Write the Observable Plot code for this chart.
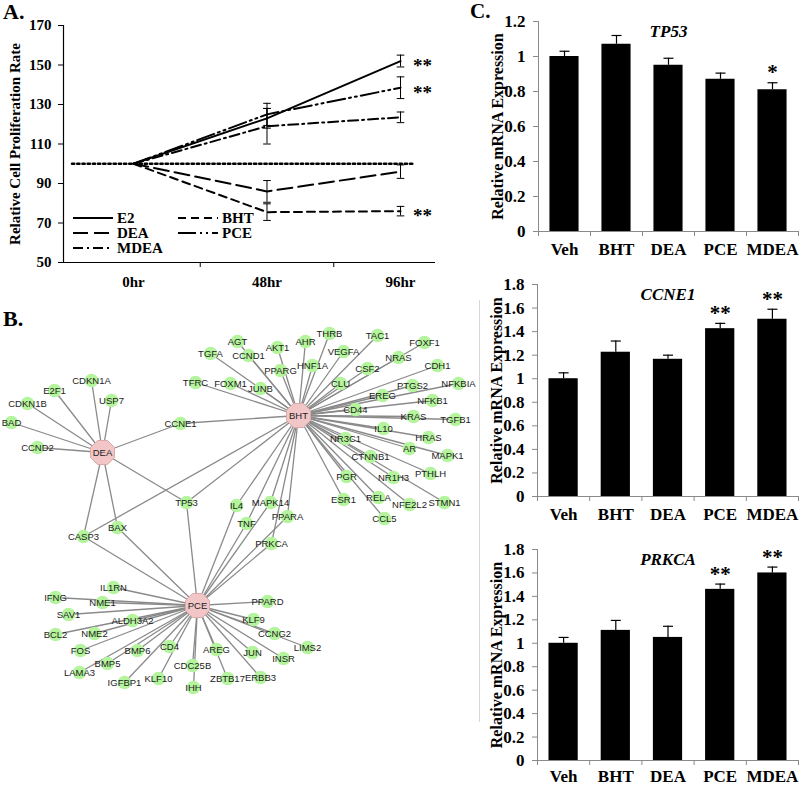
<!DOCTYPE html>
<html>
<head>
<meta charset="utf-8">
<script src="https://cdn.jsdelivr.net/npm/d3@7"></script>
<script src="https://cdn.jsdelivr.net/npm/@observablehq/plot@0.6"></script>
<style>
  html, body { margin: 0; padding: 0; background: #fff; }
  #wrap { position: relative; width: 800px; height: 786px; overflow: hidden; background: #fff;
          font-family: "Liberation Serif", "Times New Roman", serif; }
  .panel { position: absolute; }
  .panel svg { display: block; max-width: none; }
  .tag { position: absolute; font-weight: bold; line-height: 1.1; font-family: "Liberation Serif", "Times New Roman", serif; }
  .frameline { position: absolute; border-left: 1px solid #d8d8d8; }
</style>
</head>
<body>
<div id="wrap">
  <div class="panel" id="panelB" style="left:0;top:320px;"></div>
  <div class="panel" id="panelA" style="left:0;top:0;"></div>
  <div class="panel" id="legendA" style="left:0;top:0;pointer-events:none;"></div>
  <div class="frameline" style="left:479px;top:300px;height:422px;"></div>
  <div class="panel" id="panelC1" style="left:470px;top:0;"></div>
  <div class="panel" id="panelC2" style="left:470px;top:260px;"></div>
  <div class="panel" id="panelC3" style="left:470px;top:516px;"></div>
  <div class="tag" style="left:3px;top:0px;font-size:22px;">A.</div>
  <div class="tag" style="left:3px;top:307px;font-size:22px;">B.</div>
  <div class="tag" style="left:470px;top:0px;font-size:21px;">C.</div>
</div>
<script>
// ---------------- Panel A data ----------------
const timeLabels = ["0hr", "48hr", "96hr"];
const timeIndex = [0, 1, 2];
const seriesNames = ["E2", "DEA", "MDEA", "BHT", "PCE"];
const e2Values   = [100, 123, 152];
const e2Err      = [0, 5, 3];
const deaValues  = [100, 86, 96];
const deaErr     = [0, 5.5, 3.4];
const mdeaValues = [100, 119, 123.5];
const mdeaErr    = [0, 9, 2.7];
const bhtValues  = [100, 75.5, 76];
const bhtErr     = [0, 4.2, 2.4];
const pceValues  = [100, 125, 138.5];
const pceErr     = [0, 5.6, 5.5];
const sigSeriesA = ["E2", "PCE", "BHT"];
const sigTextA = "**";
const baselineValue = 100;
const baselineExtent = [-0.46, 2.1];
const xExtentA = [-0.524, 2.262];
const yDomainA = [50, 170];
const yTicksA = [50, 70, 90, 110, 130, 150, 170];
const yLabelA = "Relative Cell Proliferation Rate";

// ---------------- Panel C data ----------------
const treatments = ["Veh", "BHT", "DEA", "PCE", "MDEA"];
const tp53Values  = [1.00, 1.07, 0.95, 0.87, 0.81];
const tp53Err     = [0.03, 0.05, 0.04, 0.035, 0.04];
const tp53Sig     = ["", "", "", "", "*"];
const ccne1Values = [1.00, 1.225, 1.165, 1.425, 1.505];
const ccne1Err    = [0.05, 0.095, 0.035, 0.045, 0.085];
const ccne1Sig    = ["", "", "", "**", "**"];
const prkcaValues = [1.00, 1.11, 1.05, 1.46, 1.60];
const prkcaErr    = [0.05, 0.085, 0.095, 0.045, 0.05];
const prkcaSig    = ["", "", "", "**", "**"];
const yLabelC = "Relative mRNA Expression";

// ---------------- Panel B data (network) ----------------
const hubNames = ["DEA", "BHT", "PCE"];
const deaTargets = ["CDKN1A", "E2F1", "USP7", "CDKN1B", "BAD", "CCND2", "CCNE1", "TP53", "CASP3", "BAX"];
const bhtTargets = ["AGT", "TGFA", "CCND1", "AKT1", "AHR", "THRB", "TAC1", "FOXF1", "VEGFA", "HNF1A", "PPARG",
  "NRAS", "CSF2", "CDH1", "CLU", "FOXM1", "JUNB", "TFRC", "PTGS2", "NFKBIA", "EREG", "NFKB1", "CD44", "KRAS",
  "TGFB1", "IL10", "HRAS", "NR3C1", "AR", "MAPK1", "CTNNB1", "PTHLH", "NR1H3", "PGR", "ESR1", "RELA", "NFE2L2",
  "STMN1", "CCL5", "CCNE1", "TP53", "CASP3", "IL4", "TNF", "MAPK14", "PPARA", "PRKCA"];
const pceTargets = ["IL1RN", "IFNG", "NME1", "SAV1", "ALDH3A2", "BCL2", "NME2", "FOS", "BMP6", "CD4", "BMP5",
  "LAMA3", "IGFBP1", "KLF10", "CDC25B", "IHH", "AREG", "ZBTB17", "PPARD", "KLF9", "CCNG2", "LIMS2", "JUN",
  "INSR", "ERBB3", "TP53", "CASP3", "BAX", "IL4", "TNF", "MAPK14", "PPARA", "PRKCA"];
// network layout
const networkLayout = [
  ["DEA",102,452],["BHT",298,415],["PCE",197,605],
  ["CDKN1A",91,380],["E2F1",54,390],["USP7",111,400],["CDKN1B",27,403],["BAD",11,422],["CCND2",37,447],
  ["CCNE1",180,423],["TP53",186,502],["CASP3",83,536],["BAX",117,527],
  ["IL4",236,505],["TNF",246,523],["MAPK14",270,502],["PPARA",287,516],["PRKCA",271,543],
  ["AGT",237,341],["TGFA",210,353],["CCND1",248,355],["AKT1",277,347],["AHR",305,341],["THRB",329,333],
  ["TAC1",377,335],["FOXF1",424,342],["VEGFA",343,351],["HNF1A",312,365],["PPARG",280,370],["NRAS",398,357],
  ["CSF2",367,368],["CDH1",437,365],["CLU",340,383],["FOXM1",230,383],["JUNB",260,388],["TFRC",195,382],
  ["PTGS2",412,385],["NFKBIA",458,383],["EREG",382,395],["NFKB1",432,400],["CD44",355,409],["KRAS",413,416],
  ["TGFB1",455,419],["IL10",383,428],["HRAS",428,437],["NR3C1",345,438],["AR",409,448],["MAPK1",447,455],
  ["CTNNB1",370,456],["PTHLH",430,473],["NR1H3",393,477],["PGR",346,476],["ESR1",343,499],["RELA",378,497],
  ["NFE2L2",409,504],["STMN1",444,502],["CCL5",384,518],
  ["IL1RN",113,587],["IFNG",55,597],["NME1",102,602],["SAV1",68,614],["ALDH3A2",132,620],["BCL2",55,634],
  ["NME2",94,633],["FOS",80,650],["BMP6",137,650],["CD4",169,646],["BMP5",107,663],["LAMA3",79,672],
  ["IGFBP1",124,682],["KLF10",158,678],["CDC25B",192,665],["IHH",193,687],["AREG",216,649],["ZBTB17",227,678],
  ["PPARD",267,601],["KLF9",253,619],["CCNG2",274,633],["LIMS2",307,647],["JUN",252,652],["INSR",283,658],
  ["ERBB3",260,677]
];

// ---------------- helpers ----------------
const SERIF = "'Liberation Serif','Times New Roman',serif";
const capSymbol = { draw(ctx, size) { const w = Math.sqrt(size / Math.PI); ctx.moveTo(-w, 0); ctx.lineTo(w, 0); } };
const octagonSymbol = { draw(ctx, size) {
  const r = Math.sqrt(size / Math.PI) * 1.04;
  for (let k = 0; k < 8; k++) {
    const a = Math.PI / 8 + k * Math.PI / 4;
    const px = r * Math.cos(a), py = r * Math.sin(a);
    if (k === 0) ctx.moveTo(px, py); else ctx.lineTo(px, py);
  }
  ctx.closePath();
}};

// ---------------- Panel A ----------------
const valuesBySeries = { E2: e2Values, DEA: deaValues, MDEA: mdeaValues, BHT: bhtValues, PCE: pceValues };
const errBySeries = { E2: e2Err, DEA: deaErr, MDEA: mdeaErr, BHT: bhtErr, PCE: pceErr };
const dashBySeries = { E2: null, DEA: "15,6", MDEA: "10,4,2,4", BHT: "8,5", PCE: "18,4,2,4,2,4" };
const rowsA = seriesNames.flatMap(s => timeIndex.map(t => ({ series: s, t, value: valuesBySeries[s][t], err: errBySeries[s][t] })));
const errRowsA = rowsA.filter(d => d.err > 0);
const sigRowsA = sigSeriesA.map(s => ({ series: s, t: 2, value: valuesBySeries[s][2], text: sigTextA }));
const baselineRows = baselineExtent.map(x => ({ x, y: baselineValue }));

const plotA = Plot.plot({
  width: 440, height: 300,
  marginLeft: 63, marginRight: 5, marginTop: 25, marginBottom: 38,
  x: { domain: xExtentA, label: null },
  y: { domain: yDomainA, label: null },
  style: `background: transparent; color: #000; font: bold 15px ${SERIF};`,
  marks: [
    Plot.line(baselineRows, { x: "x", y: "y", stroke: "#000", strokeWidth: 2.6, strokeDasharray: "2.2,3" }),
    ...seriesNames.map(s => Plot.line(rowsA.filter(d => d.series === s), {
      x: "t", y: "value", stroke: "#000", strokeWidth: 2, strokeDasharray: dashBySeries[s] || undefined
    })),
    Plot.ruleX(errRowsA, { x: "t", y1: d => d.value - d.err, y2: d => d.value + d.err, stroke: "#000", strokeWidth: 1 }),
    Plot.dot(errRowsA, { x: "t", y: d => d.value + d.err, symbol: capSymbol, r: 3.8, stroke: "#000", fill: "none", strokeWidth: 1 }),
    Plot.dot(errRowsA, { x: "t", y: d => d.value - d.err, symbol: capSymbol, r: 3.8, stroke: "#000", fill: "none", strokeWidth: 1 }),
    Plot.text(sigRowsA, { x: "t", y: "value", text: "text", dx: 22, dy: 5, fontSize: 19, fontWeight: "bold" }),
    Plot.ruleY([yDomainA[0]], { stroke: "#000", strokeWidth: 1.2 }),
    Plot.ruleX([xExtentA[0]], { stroke: "#000", strokeWidth: 1.2 }),
    Plot.axisY({ ticks: yTicksA, tickSize: 5, tickPadding: 7, label: null, stroke: "#000" }),
    Plot.axisX({ ticks: [0.5, 1.5], tickSize: 5, tickFormat: () => "", label: null, stroke: "#000" }),
    Plot.axisX({ ticks: timeIndex, tickSize: 0, tickPadding: 14, tickFormat: i => timeLabels[i], label: null }),
    Plot.text([yLabelA], { frameAnchor: "left", textAnchor: "middle", rotate: -90, dx: -48, text: d => d, fontSize: 15, fontWeight: "bold" })
  ]
});
document.getElementById("panelA").appendChild(plotA);

// legend for panel A (drawn inside plot area)
(function () {
  const svg = d3.create("svg").attr("width", 440).attr("height", 300)
    .style("font", `bold 15px ${SERIF}`).style("display", "block");
  const items = [
    { s: "E2", x: 73, y: 218 }, { s: "BHT", x: 178, y: 218 },
    { s: "DEA", x: 73, y: 233 }, { s: "PCE", x: 178, y: 233 },
    { s: "MDEA", x: 73, y: 248 }
  ];
  for (const it of items) {
    const ln = svg.append("line").attr("x1", it.x).attr("x2", it.x + 40).attr("y1", it.y).attr("y2", it.y)
      .attr("stroke", "#000").attr("stroke-width", 2);
    if (dashBySeries[it.s]) ln.attr("stroke-dasharray", dashBySeries[it.s]);
    svg.append("text").attr("x", it.x + 44).attr("y", it.y + 5).text(it.s);
  }
  document.getElementById("legendA").appendChild(svg.node());
})();

// ---------------- Panel B ----------------
const nodePos = new Map(networkLayout.map(([id, x, y]) => [id, { id, x, y }]));
const edges = [
  ...deaTargets.map(t => ["DEA", t]),
  ...bhtTargets.map(t => ["BHT", t]),
  ...pceTargets.map(t => ["PCE", t])
].map(([a, b]) => ({ x1: nodePos.get(a).x, y1: nodePos.get(a).y, x2: nodePos.get(b).x, y2: nodePos.get(b).y }));
const allNodes = networkLayout.map(([id, x, y]) => ({ id, x, y, hub: hubNames.includes(id) }));

const plotB = Plot.plot({
  width: 480, height: 410, margin: 0,
  x: { domain: [0, 480], range: [0, 480], axis: null },
  y: { domain: [320, 730], range: [0, 410], axis: null },
  style: "background: transparent; font: 9.5px 'Liberation Sans', Arial, sans-serif;",
  marks: [
    Plot.link(edges, { x1: "x1", y1: "y1", x2: "x2", y2: "y2", stroke: "#8a8a8a", strokeWidth: 1.3 }),
    Plot.dot(allNodes.filter(d => !d.hub), { x: "x", y: "y", r: 6.8, fill: "#b4f49c" }),
    Plot.dot(allNodes.filter(d => d.hub), { x: "x", y: "y", r: 12.5, symbol: octagonSymbol, fill: "#f2c6c6", stroke: "#dba9a9", strokeWidth: 1 }),
    Plot.text(allNodes, { x: "x", y: "y", text: "id", fill: "#1c1c1c", fontSize: 9.5 })
  ]
});
document.getElementById("panelB").appendChild(plotB);

// ---------------- Panel C ----------------
function barChart({ values, errs, sigs, title, yMax, height, marginTop, marginBottom, marginLeft, labelPad }) {
  const rows = treatments.map((c, i) => ({ c, i, value: values[i], err: errs[i], sig: sigs[i] }));
  const ticks = d3.range(0, Math.round(yMax / 0.2) + 1).map(k => +(k * 0.2).toFixed(1));
  return Plot.plot({
    width: 330, height, marginLeft, marginRight: 2, marginTop, marginBottom,
    x: { domain: [-0.5, 4.5], label: null },
    y: { domain: [0, yMax], label: null },
    style: `background: transparent; color: #000; font: bold 17px ${SERIF}; overflow: visible;`,
    marks: [
      Plot.rect(rows, { x1: d => d.i - 0.28, x2: d => d.i + 0.28, y1: 0, y2: "value", fill: "#000" }),
      Plot.ruleX(rows, { x: "i", y1: "value", y2: d => d.value + d.err, stroke: "#000", strokeWidth: 1.2 }),
      Plot.dot(rows, { x: "i", y: d => d.value + d.err, symbol: capSymbol, r: 5, stroke: "#000", fill: "none", strokeWidth: 1.2 }),
      Plot.text(rows, { x: "i", y: d => d.value + d.err, text: "sig", dy: -10, fontSize: 21, fontWeight: "bold" }),
      Plot.ruleY([0], { stroke: "#8a8a8a" }),
      Plot.ruleX([-0.5], { stroke: "#8a8a8a" }),
      Plot.axisY({ ticks, tickSize: 5, tickPadding: 8, tickFormat: d => String(+d.toFixed(1)), label: null, stroke: "#8a8a8a" }),
      Plot.axisX({ ticks: [-0.5, 0.5, 1.5, 2.5, 3.5, 4.5], tickSize: 5, tickFormat: () => "", label: null, stroke: "#8a8a8a" }),
      Plot.axisX({ ticks: [0, 1, 2, 3, 4], tickSize: 0, tickPadding: labelPad, tickFormat: i => treatments[i], label: null }),
      Plot.text([title], { frameAnchor: "top", text: d => d, fontStyle: "italic", fontWeight: "bold", fontSize: 17, dy: 3 }),
      Plot.text([yLabelC], { frameAnchor: "left", textAnchor: "middle", rotate: -90, dx: -41, text: d => d, fontSize: 16, fontWeight: "bold" })
    ]
  });
}
document.getElementById("panelC1").appendChild(barChart({
  values: tp53Values, errs: tp53Err, sigs: tp53Sig, title: "TP53", yMax: 1.2,
  height: 262, marginTop: 21, marginBottom: 31, marginLeft: 68, labelPad: 11
}));
document.getElementById("panelC2").appendChild(barChart({
  values: ccne1Values, errs: ccne1Err, sigs: ccne1Sig, title: "CCNE1", yMax: 1.8,
  height: 262, marginTop: 24, marginBottom: 26, marginLeft: 67, labelPad: 11
}));
document.getElementById("panelC3").appendChild(barChart({
  values: prkcaValues, errs: prkcaErr, sigs: prkcaSig, title: "PRKCA", yMax: 1.8,
  height: 270, marginTop: 33, marginBottom: 26, marginLeft: 67, labelPad: 9
}));
</script>
</body>
</html>
